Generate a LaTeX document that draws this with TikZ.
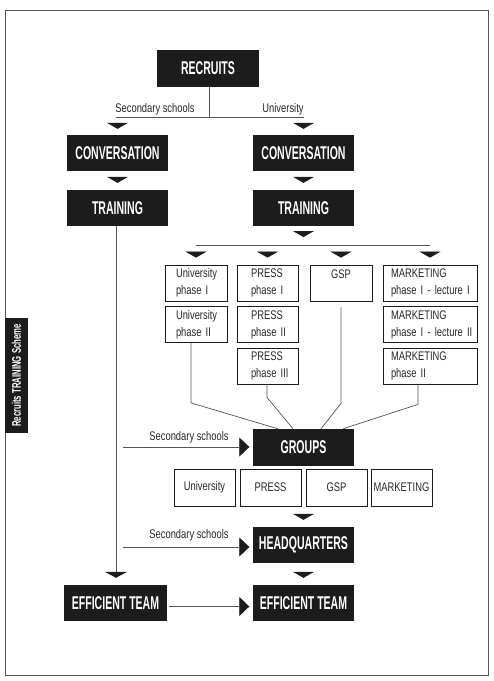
\documentclass[tikz,border=0pt]{standalone}
\usepackage{fontspec}
\setmainfont[FakeStretch=0.75]{Liberation Sans}
\newfontfamily\boxfont[FakeStretch=0.57]{Liberation Sans}
\newfontfamily\sidefont[FakeStretch=0.62]{Liberation Sans}
\usepackage{tikz}
\usetikzlibrary{arrows.meta,positioning}
\definecolor{boxblack}{RGB}{28,28,28}
\definecolor{linegray}{RGB}{85,85,85}
\definecolor{textgray}{RGB}{40,40,40}
\tikzstyle{blackbox} = [rectangle, minimum width=101pt, minimum height=36pt, inner sep=0pt, text centered, fill=boxblack, text=white, font=\boxfont\bfseries\fontsize{18.5}{20}\selectfont]
\tikzstyle{phase} = [rectangle, minimum height=36pt, inner ysep=0pt, align=left, draw=boxblack, line width=0.8pt, text=textgray, font=\fontsize{12.5}{17}\selectfont]
\tikzstyle{unicol} = [inner xsep=11pt, text width=40pt]
\tikzstyle{presscol} = [inner xsep=14pt, text width=33pt]
\tikzstyle{mktcol} = [inner xsep=8pt, text width=78pt]
\tikzstyle{group} = [rectangle, minimum width=61pt, minimum height=37pt, inner sep=0pt, draw=boxblack, line width=0.8pt, text=textgray, font=\fontsize{12.5}{14}\selectfont]
\tikzstyle{lbl} = [inner sep=1pt, anchor=south, text=textgray, font=\fontsize{12.5}{14}\selectfont]
\tikzstyle{sidebox} = [rectangle, rotate=90, minimum width=115pt, minimum height=23pt, inner sep=0pt, fill=boxblack, text=white, font=\sidefont\bfseries\fontsize{12.5}{14}\selectfont]
\tikzstyle{link} = [line width=0.7pt, color=linegray]
\tikzstyle{drop} = [-{Triangle[width=21pt,length=6pt]}, color=boxblack]
\tikzstyle{feed} = [line width=0.7pt, color=linegray, -{Triangle[width=19pt,length=10pt,color=boxblack]}]

\begin{document}
\begin{tikzpicture}[x=1pt, y=-1pt, node distance=55pt]
\useasboundingbox (0,0) rectangle (494,681);
\draw[link, line width=0.9pt] (5,10) rectangle (488,675);

% Side label
\node (side) [sidebox] at (16.5,375.5) {Recruits TRAINING Scheme};

% Top: recruits and the two entry paths
\node (recruits) [blackbox, minimum width=102pt, minimum height=37pt] at (208,68.5) {RECRUITS};
\coordinate (forkL) at (116,117);
\coordinate (forkR) at (303.5,117);
\draw[link] (recruits.south -| 209,0) -- (forkL -| 209,0);
\draw[link] (forkL) -- (forkR);
\node (lsec) [lbl] at (155,116) {Secondary schools};
\node (luni) [lbl] at (283,116) {University};

\node (conv1) [blackbox] at (117.5,153) {CONVERSATION};
\node (train1) [blackbox, below of=conv1] {TRAINING};
\node (conv2) [blackbox] at (303.5,153) {CONVERSATION};
\node (train2) [blackbox, below of=conv2] {TRAINING};

\draw[drop, shorten <=5.5pt, shorten >=6pt] (conv1 |- forkL) -- (conv1.north);
\draw[drop, shorten <=5.5pt, shorten >=6pt] (forkR) -- (conv2.north);
\draw[drop, shorten <=5.5pt, shorten >=7pt] (conv1.south) -- (train1.north);
\draw[drop, shorten <=5.5pt, shorten >=7pt] (conv2.south) -- (train2.north);

% Phases
\begin{scope}[node distance=41.5pt]
\node (uni1) [phase, unicol] at (196,283) {University\\phase~I};
\node (uni2) [phase, unicol, below of=uni1] {University\\phase~II};
\node (press1) [phase, presscol] at (267.5,283) {PRESS\\phase~I};
\node (press2) [phase, presscol, below of=press1] {PRESS\\phase~II};
\node (press3) [phase, presscol, below of=press2] {PRESS\\phase~III};
\node (gsp) [phase, unicol, align=center] at (341,283) {GSP\\\mbox{}};
\node (mkt1) [phase, mktcol] at (430,283) {MARKETING\\\mbox{phase I - lecture I}};
\node (mkt2) [phase, mktcol, below of=mkt1] {MARKETING\\\mbox{phase I - lecture II}};
\node (mkt3) [phase, mktcol, below of=mkt2] {MARKETING\\phase~II};
\end{scope}

\coordinate (forkP) at (196,245);
\draw[drop, shorten <=4.5pt, shorten >=8pt] (train2.south) -- (train2 |- forkP);
\draw[link] (forkP) -- (forkP -| mkt1);
\foreach \n in {uni1,press1,gsp,mkt1}
  \draw[drop, shorten <=6.5pt, shorten >=7pt] (forkP -| \n) -- (\n.north);

% Groups
\node (groups) [blackbox, minimum height=37pt] at (303.5,447.5) {GROUPS};
\draw[link] ([xshift=-5pt]uni2.south) -- ++(0,60) -- ([xshift=-25.5pt]groups.north);
\draw[link] ([xshift=-0.5pt]press3.south) -- ++(0,13) -- ([xshift=-10.5pt]groups.north);
\draw[link] ([yshift=-6pt]gsp.south) -- ++(0,96) -- ([xshift=17.5pt]groups.north);
\draw[link] ([xshift=-12pt]mkt3.south) -- ++(0,20) -- ([xshift=39.5pt]groups.north);

\node (uniG) [group] at (204.5,487.5) {University};
\node (pressG) [group] at (270.5,487.5) {PRESS};
\node (gspG) [group] at (336.5,487.5) {GSP};
\node (mktG) [group] at (401.5,487.5) {MARKETING};

% Headquarters and teams
\node (hq) [blackbox] at (303.5,545) {HEADQUARTERS};
\node (team2) [blackbox] at (303.5,603) {EFFICIENT TEAM};
\node (team1) [blackbox, minimum width=103pt] at (115.5,603) {EFFICIENT TEAM};

\draw[drop, shorten <=8pt, shorten >=7pt] (hq |- gspG.south) -- (hq.north);
\draw[drop, shorten <=9pt, shorten >=7pt] (hq.south) -- (team2.north);
\draw[link, -{Triangle[width=22pt,length=6pt,color=boxblack]}, shorten >=7pt] (train1.south -| 116,0) -- (team1.north -| 116,0);

% Side entries
\coordinate (sec1) at (123,447);
\coordinate (sec2) at (123,547);
\draw[feed, shorten >=3.5pt] (sec1) -- (sec1 -| groups.west);
\draw[feed, shorten >=3.5pt] (sec2) -- (sec2 -| hq.west);
\node (lsec1) [lbl] at (189,444) {Secondary schools};
\node (lsec2) [lbl] at (189,542) {Secondary schools};
\draw[feed, shorten <=2pt, shorten >=3.5pt] ([yshift=-3.5pt]team1.east) -- ([yshift=-3.5pt]team2.west);
\end{tikzpicture}
\end{document}
